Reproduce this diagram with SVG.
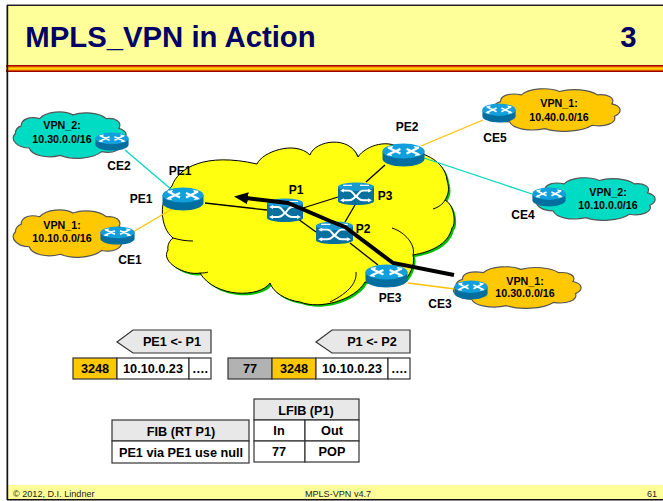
<svg xmlns="http://www.w3.org/2000/svg" width="663" height="501" viewBox="0 0 663 501">
<style>
text{font-family:"Liberation Sans",Arial,sans-serif;font-weight:bold;fill:#000;text-anchor:middle}
.l{font-size:12px}
.c{font-size:10.7px}
.t{font-size:12.7px}
.f{font-size:9.100px;font-weight:normal;fill:#222}
.cell{stroke:#333;stroke-width:1.2;fill:#fff}
.hd{stroke:#333;stroke-width:1.2;fill:#e8e8e8}
.link{fill:none;stroke-width:1.3}
.blk{stroke:#000}.cy{stroke:#00d8c0}.or{stroke:#ffc000}
.cl{stroke:#555;stroke-width:1.2;vector-effect:non-scaling-stroke}
.org{fill:#ffc800}.tl{fill:#00dcc4}
</style>
<defs>
<symbol id="cloud" viewBox="0 0 100 40" preserveAspectRatio="none" overflow="visible">
<path class="cl" d="M8 13C8 7 16 5 24 7C30 1 45 0 53 4C62 1 76 2 82 7C90 6 96 10 93 15C101 17 101 23 95 26C97 32 88 36 78 34C70 40 52 41 42 37C30 40 17 37 15 31C6 31 -3 25 3 19C3 16 5 14 8 13Z"/>
</symbol>
<symbol id="router" viewBox="0 0 42 24" preserveAspectRatio="none">
<path d="M.5 8V16C.5 20 10 23.500 21 23.500S41.500 20 41.500 16V8Z" fill="#006f9f"/>
<ellipse cx="21" cy="8" rx="20.500" ry="7.500" fill="#12a0dc"/>
<path d="M6 4.500L18 10.500M36 4.500L24 10.500M6 11.500L18 6M36 11.500L24 6" stroke="#fff" stroke-width="2" fill="none"/>
<path d="M11 3L5 4L9 6.500ZM31 3L37 4L33 6.500ZM8 9.500L4 12L10 13ZM34 9.500L38 12L32 13Z" fill="#fff"/>
</symbol>
<symbol id="switch" viewBox="0 0 36 24" preserveAspectRatio="none">
<path d="M0 5V20C0 22 8 24 18 24S36 22 36 20V5Z" fill="#08709f"/>
<ellipse cx="18" cy="5" rx="18" ry="4.500" fill="#1b9ad0"/>
<path d="M5 3.500H14M22 3.500H31" stroke="#fff" stroke-width="1.200"/>
<path d="M4 9H11C15 9 15 13 18 15C21 17 21 19 25 19H32M4 19H11C15 19 15 17 18 15C21 13 21 9 25 9H32" stroke="#fff" stroke-width="2" fill="none"/>
<path d="M2 9L6 7V11ZM2 19L6 17V21ZM34 9L30 7V11ZM34 19L30 17V21Z" fill="#fff"/>
</symbol>
<marker id="head" markerUnits="userSpaceOnUse" markerWidth="16" markerHeight="14" refX="2" refY="7" orient="auto" viewBox="0 0 16 14"><path d="M14 7L0 1V13Z" fill="#000"/></marker>
</defs>

<g id="frame">
<rect width="663" height="501" fill="#fff"/>
<rect x="7" y="5" width="656" height="60" fill="#ffff99"/>
<rect x="7" y="4.500" width="656" height="1.500" fill="#222"/>
<rect x="6" y="65" width="657" height="7" fill="#a00000"/>
<rect x="6" y="66.500" width="657" height="4" fill="#ff9900"/>
<rect x="6" y="68" width="657" height="1.300" fill="#ffdd00"/>
<rect x="7" y="485" width="656" height="14" fill="#ffff99"/>
<rect x="6.500" y="5" width="1.700" height="495" fill="#111"/>
<rect x="7" y="499" width="656" height="1.500" fill="#111"/>
<text x="170.500" y="47" style="font-size:29.300px;fill:#000066">MPLS_VPN in Action</text>
<text x="628.500" y="47" style="font-size:29.300px;fill:#000066">3</text>
<text class="f" x="13" y="497" style="text-anchor:start">© 2012, D.I. Lindner</text>
<text class="f" x="338" y="497">MPLS-VPN v4.7</text>
<text class="f" x="652" y="497">61</text>
</g>

<g id="core-cloud">
<path fill="#00c000" transform="translate(2,2)" d="M172 186C178 168 205 152 257 164C262 152 295 140 310 155C315 140 350 135 358 157C366 145 390 138 402 150C420 150 445 160 447 180C450 190 448 195 445 200C455 205 456 225 452 228C448 245 430 252 413 255C415 262 412 272 405 280L365 282C355 300 320 310 300 302C285 300 273 292 270 283C260 298 215 298 200 273C185 276 160 262 168 250C167 245 170 240 173 238C160 228 158 200 172 186Z"/>
<path fill="#ffff10" stroke="#000" stroke-width="1" d="M172 186C178 168 205 152 257 164C262 152 295 140 310 155C315 140 350 135 358 157C366 145 390 138 402 150C420 150 445 160 447 180C450 190 448 195 445 200C455 205 456 225 452 228C448 245 430 252 413 255C415 262 412 272 405 280L365 282C355 300 320 310 300 302C285 300 273 292 270 283C260 298 215 298 200 273C185 276 160 262 168 250C167 245 170 240 173 238C160 228 158 200 172 186Z"/>
<path fill="none" stroke="#000" stroke-width="1" d="M173 238C180 240 186 241 193 241M200 273C203 273 206 273 208 272M433 209C439 207 443 204 445 200M392 228C405 232 416 245 413 255M356 272C357 282 350 292 330 302"/>
</g>

<g id="vpn-clouds">
<g id="cloud-vpn2-a"><use href="#cloud" class="tl" x="12" y="110" width="115" height="49"/><text class="c"><tspan x="62" y="129">VPN_2:</tspan><tspan x="62" y="143">10.30.0.0/16</tspan></text></g>
<g id="cloud-vpn1-a"><use href="#cloud" class="org" x="12" y="208" width="115" height="50"/><text class="c"><tspan x="62" y="229">VPN_1:</tspan><tspan x="62" y="242">10.10.0.0/16</tspan></text></g>
<g id="cloud-vpn1-b"><use href="#cloud" class="org" x="490" y="87" width="131" height="45"/><text class="c"><tspan x="559" y="107">VPN_1:</tspan><tspan x="559" y="121">10.40.0.0/16</tspan></text></g>
<g id="cloud-vpn2-b"><use href="#cloud" class="tl" x="535" y="176" width="121" height="45"/><text class="c"><tspan x="608" y="196">VPN_2:</tspan><tspan x="608" y="209">10.10.0.0/16</tspan></text></g>
<g id="cloud-vpn1-c"><use href="#cloud" class="org" x="452" y="265" width="130" height="44"/><text class="c"><tspan x="525" y="285">VPN_1:</tspan><tspan x="525" y="297">10.30.0.0/16</tspan></text></g>
</g>

<g id="connectors">
<path class="link cy" d="M125 150L172 190"/>
<path class="link or" d="M133 232L172 209"/>
<path class="link blk" d="M205 203L267 210"/>
<path class="link blk" d="M303 208L338 197"/>
<path class="link blk" d="M298 219L316 232"/>
<path class="link blk" d="M355 205L345 222"/>
<path class="link blk" d="M366 182L385 165"/>
<path class="link blk" d="M350 243L378 265"/>
<path class="link or" d="M421 146L483 120"/>
<path class="link cy" d="M424 158L532 194"/>
<path class="link or" d="M408 283L455 289"/>
</g>

<g id="CE2"><use href="#router" x="95" y="132" width="34" height="19"/><text class="l" x="119" y="170">CE2</text></g>
<g id="CE1"><use href="#router" x="100" y="226" width="35" height="19"/><text class="l" x="130" y="264">CE1</text></g>
<g id="PE1"><use href="#router" x="162" y="187" width="42" height="24"/><text class="l" x="180" y="175">PE1</text><text class="l" x="141" y="203">PE1</text></g>
<g id="PE2"><use href="#router" x="382" y="143" width="43" height="24"/><text class="l" x="407" y="131">PE2</text></g>
<g id="PE3"><use href="#router" x="365" y="264" width="43" height="24"/><text class="l" x="390" y="302">PE3</text></g>
<g id="CE5"><use href="#router" x="482" y="103" width="34" height="20"/><text class="l" x="495" y="142">CE5</text></g>
<g id="CE4"><use href="#router" x="532" y="187" width="34" height="20"/><text class="l" x="523" y="219">CE4</text></g>
<g id="CE3"><use href="#router" x="454" y="280" width="34" height="20"/><text class="l" x="440" y="308">CE3</text></g>
<g id="P1"><use href="#switch" x="267" y="198" width="36" height="24"/><text class="l" x="296" y="194">P1</text></g>
<g id="P3"><use href="#switch" x="338" y="182" width="36" height="23"/><text class="l" x="385" y="200">P3</text></g>
<g id="P2"><use href="#switch" x="316" y="221" width="37" height="23"/><text class="l" x="363" y="233">P2</text></g>

<g id="path-arrow"><path d="M454 275L393 263L345 227L330 221L288 203L246 198" fill="none" stroke="#000" stroke-width="4" marker-end="url(#head)"/></g>

<g id="packet-1">
<path class="hd" d="M117 342L133 330H211V353H133Z"/><text class="t" x="172" y="346">PE1 &lt;- P1</text>
<rect class="cell" x="73" y="358" width="44" height="21" style="fill:#ffc800"/><text class="t" x="95" y="373">3248</text>
<rect class="cell" x="117" y="358" width="72" height="21"/><text class="t" x="153" y="373">10.10.0.23</text>
<rect class="cell" x="189" y="358" width="22" height="21"/><text class="t" x="200" y="373">….</text>
</g>
<g id="packet-2">
<path class="hd" d="M316 342L332 330H410V353H332Z"/><text class="t" x="372" y="346">P1 &lt;- P2</text>
<rect class="cell" x="228" y="358" width="44" height="21" style="fill:#b2b2b2"/><text class="t" x="250" y="373">77</text>
<rect class="cell" x="272" y="358" width="44" height="21" style="fill:#ffc800"/><text class="t" x="294" y="373">3248</text>
<rect class="cell" x="316" y="358" width="72" height="21"/><text class="t" x="352" y="373">10.10.0.23</text>
<rect class="cell" x="388" y="358" width="22" height="21"/><text class="t" x="399" y="373">….</text>
</g>
<g id="fib">
<rect class="hd" x="112" y="420" width="137" height="21"/><text class="t" x="181" y="436">FIB (RT P1)</text>
<rect class="cell" x="112" y="441" width="137" height="22"/><text class="t" x="181" y="457">PE1 via PE1 use null</text>
</g>
<g id="lfib">
<rect class="hd" x="254" y="399" width="105" height="21"/><text class="t" x="306" y="415">LFIB (P1)</text>
<rect class="cell" x="254" y="420" width="51" height="21"/><text class="t" x="279" y="435">In</text>
<rect class="cell" x="305" y="420" width="54" height="21"/><text class="t" x="332" y="435">Out</text>
<rect class="cell" x="254" y="441" width="51" height="21"/><text class="t" x="279" y="456">77</text>
<rect class="cell" x="305" y="441" width="54" height="21"/><text class="t" x="332" y="456">POP</text>
</g>
</svg>
